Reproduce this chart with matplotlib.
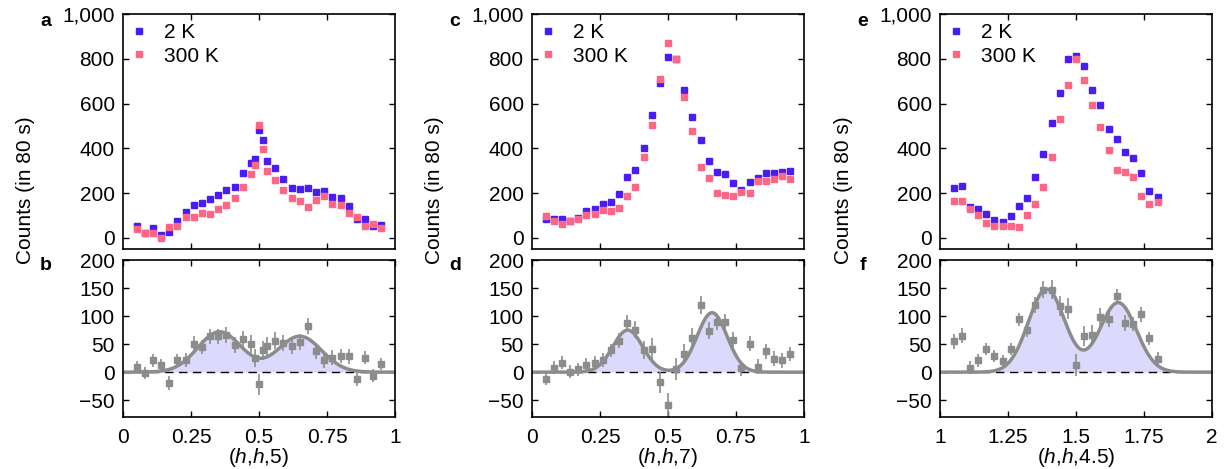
import numpy as np
import matplotlib
matplotlib.use("Agg")
from matplotlib import pyplot as plt
from matplotlib.ticker import FuncFormatter

plt.rcParams['font.family'] = ['Liberation Sans', 'DejaVu Sans']
plt.rcParams['mathtext.fontset'] = 'custom'
plt.rcParams['mathtext.rm'] = 'Liberation Sans'
plt.rcParams['mathtext.it'] = 'Liberation Sans:italic'

# ---- data ----
x_a = [0.05, 0.08, 0.11, 0.14, 0.17, 0.20, 0.23, 0.26, 0.29, 0.32, 0.35, 0.38, 0.41, 0.44, 0.47,
       0.485, 0.50, 0.515, 0.53, 0.56, 0.59, 0.62, 0.65, 0.68, 0.71, 0.74, 0.77, 0.80, 0.83,
       0.86, 0.89, 0.92, 0.95]
cold_a = [51, 22, 45, 13, 27, 76, 116, 146, 156, 173, 192, 212, 228, 289, 335, 353, 481, 435,
          344, 313, 265, 222, 218, 222, 204, 209, 183, 176, 140, 82, 82, 55, 57]
hot_a = [40, 22, 22, -3, 48, 52, 91, 95, 110, 107, 127, 145, 179, 229, 285, 325, 505, 398,
         297, 258, 215, 176, 164, 139, 171, 186, 153, 146, 110, 92, 55, 63, 42]
diff_a = [9, -1, 21, 12, -19, 21, 22, 51, 45, 64, 64, 66, 49, 59, 50, 25, -22, 39, 46, 56, 52,
          46, 54, 82, 38, 21, 26, 29, 28, -12, 26, -6, 14]
err_a = [11, 11, 11, 11, 12, 12, 12, 13, 13, 13, 13, 14, 14, 15, 16, 16, 18, 17, 16, 15, 14,
         14, 14, 14, 14, 14, 13, 13, 13, 12, 12, 11, 11]

x_c = [0.05, 0.08, 0.11, 0.14, 0.17, 0.20, 0.23, 0.26, 0.29, 0.32, 0.35, 0.38, 0.41, 0.44, 0.47,
       0.50, 0.53, 0.56, 0.59, 0.62, 0.65, 0.68, 0.71, 0.74, 0.77, 0.80, 0.83, 0.86, 0.89, 0.92, 0.95]
cold_c = [85, 86, 82, 75, 89, 122, 127, 149, 161, 194, 273, 305, 401, 547, 693, 809, 800, 660,
          539, 438, 341, 292, 283, 246, 213, 250, 268, 291, 289, 294, 297]
hot_c = [97, 73, 61, 75, 85, 104, 107, 125, 119, 134, 185, 228, 362, 504, 711, 869, 799, 627,
         477, 317, 267, 201, 192, 188, 204, 200, 253, 253, 264, 274, 264]
diff_c = [-12, 8, 17, 1, 5, 13, 16, 22, 39, 56, 88, 76, 39, 42, -18, -58, 6, 33, 61, 119, 74,
          90, 89, 58, 7, 51, 10, 37, 24, 21, 32]
err_c = [11, 11, 11, 11, 11, 12, 12, 12, 12, 13, 14, 15, 16, 18, 19, 21, 20, 18, 17, 16, 15,
         14, 14, 13, 13, 13, 13, 13, 13, 13, 13]

x_e = [1.05, 1.08, 1.11, 1.14, 1.17, 1.20, 1.23, 1.26, 1.29, 1.32, 1.35, 1.38, 1.41, 1.44,
       1.47, 1.50, 1.53, 1.56, 1.59, 1.62, 1.65, 1.68, 1.71, 1.74, 1.77, 1.80]
cold_e = [221, 231, 139, 127, 106, 80, 72, 97, 143, 180, 271, 374, 511, 648, 800, 812, 769, 659,
          595, 487, 440, 384, 356, 291, 209, 183]
hot_e = [165, 165, 130, 103, 64, 51, 52, 55, 49, 103, 152, 225, 362, 532, 685, 797, 703, 592,
         496, 393, 304, 295, 271, 188, 149, 158]
diff_e = [55, 65, 8, 21, 41, 29, 19, 41, 94, 76, 120, 147, 147, 118, 113, 13, 65, 67, 98, 95,
          135, 88, 86, 103, 60, 24]
err_e = [13, 13, 12, 12, 11, 11, 11, 11, 12, 13, 14, 15, 17, 18, 19, 19, 18, 17, 16, 15, 14,
         14, 13, 13, 12, 12]

# two-gaussian fit parameters (centres, amplitudes, width)
fit_a = ([0.355, 0.65], [72, 64], 0.08)
fit_c = ([0.352, 0.662], [75, 106], 0.055)
fit_e = ([1.392, 1.655], [148, 124], 0.067)

xlabels = ['($\\mathit{h}$,$\\mathit{h}$,5)', '($\\mathit{h}$,$\\mathit{h}$,7)',
           '($\\mathit{h}$,$\\mathit{h}$,4.5)']
letters = [('a', 'b'), ('c', 'd'), ('e', 'f')]
xranges = [(0, 1), (0, 1), (1, 2)]

BLUE = '#4A1CF2'
PINK = '#FF6584'
GRAY = '#8C8C8C'
FILL = '#DCDAFC'
FS = 15

W, H = 1230, 469
fig = plt.figure(figsize=(W / 100, H / 100), dpi=100)

lefts = [123, 532, 940]
width = 272


def style(ax):
	ax.tick_params(direction='in', top=True, right=True, length=4, width=1,
	               labelsize=FS, pad=6)
	for s in ax.spines.values():
		s.set_linewidth(1.2)


panels = [
	(x_a, cold_a, hot_a, diff_a, err_a, fit_a),
	(x_c, cold_c, hot_c, diff_c, err_c, fit_c),
	(x_e, cold_e, hot_e, diff_e, err_e, fit_e),
]

for i, (x, cold, hot, diff, err, fit) in enumerate(panels):
	l = lefts[i] / W
	w = width / W
	top = fig.add_axes([l, (H - 249) / H, w, 235 / H])
	bot = fig.add_axes([l, (H - 417) / H, w, 157 / H])
	x0, x1 = xranges[i]

	# top panel
	top.plot(x, cold, 's', color=BLUE, ms=5, mec=BLUE, label='2 K')
	top.plot(x, hot, 's', color=PINK, ms=5, mec=PINK, label='300 K')
	top.set_xlim(x0, x1)
	top.set_ylim(-50, 1000)
	top.set_yticks([0, 200, 400, 600, 800, 1000])
	top.yaxis.set_major_formatter(FuncFormatter(lambda v, p: '{:,.0f}'.format(v)))
	top.set_xticks([x0 + 0.25, x0 + 0.5, x0 + 0.75])
	top.set_xticklabels([])
	style(top)
	top.legend(loc='upper left', frameon=False, fontsize=FS, handlelength=0.6,
	           handletextpad=0.9, labelspacing=0.2, borderaxespad=0.15, borderpad=0.3)

	# bottom panel
	xs = np.linspace(x0, x1, 400)
	centres, amps, sig = fit
	curve = np.zeros_like(xs)
	for c, a in zip(centres, amps):
		curve += a * np.exp(-(xs - c) ** 2 / (2 * sig ** 2))
	bot.fill_between(xs, 0, curve, color=FILL, lw=0)
	bot.axhline(0, color='black', lw=1, ls=(0, (6, 4)))
	bot.plot(xs, curve, color=GRAY, lw=2.5)
	bot.errorbar(x, diff, yerr=err, fmt='s', color=GRAY, ms=5, elinewidth=1.2, capsize=0)
	bot.set_xlim(x0, x1)
	bot.set_ylim(-80, 200)
	bot.set_yticks([-50, 0, 50, 100, 150, 200])
	bot.set_xticks([x0, x0 + 0.25, x0 + 0.5, x0 + 0.75, x1])
	bot.xaxis.set_major_formatter(FuncFormatter(lambda v, p: '%g' % v))
	style(bot)
	bot.tick_params(axis='x', pad=8)
	bot.set_xlabel(xlabels[i], fontsize=FS, labelpad=-1)

	# panel letters and y label
	lx = (lefts[i] - 77) / W
	fig.text(lx, 1 - 22 / H, letters[i][0], fontsize=14, fontweight='bold', ha='center', va='center')
	fig.text(lx, 1 - 265 / H, letters[i][1], fontsize=14, fontweight='bold', ha='center', va='center')
	fig.text((lefts[i] - 97) / W, 1 - 190 / H, 'Counts (in 80 s)', fontsize=FS,
	         rotation=90, ha='center', va='center')

fig.savefig('out.png', dpi=100)
